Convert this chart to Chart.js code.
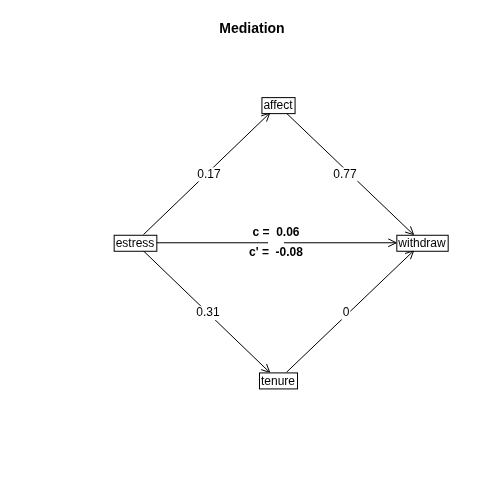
<!DOCTYPE html>
<html><head><script src="https://cdn.jsdelivr.net/npm/chart.js@4"></script>
<style>body{margin:0;background:#fff}#w{width:504px;height:504px}</style></head>
<body><div id="w"><canvas id="c"></canvas></div>
<script>
const nodeNames=["estress","affect","withdraw","tenure"];
const nodeX=[135,278,422,278];
const nodeY=[244,107,244,381];
const edgeFrom=[0,1,0,3,0];
const edgeTo=[1,2,3,2,2];
const edgeLabels=[["0.17"],["0.77"],["0.31"],["0"],["c =  0.06","c' =  -0.08"]];
const labelX=[209,345,208,346,276];
const labelY=[176,176,314,314,244];
const FONT='12px "Liberation Sans", Arial, sans-serif';
const BFONT='bold 12px "Liberation Sans", Arial, sans-serif';
function boxOf(ctx,i,xs,ys){const w=ctx.measureText(nodeNames[i]).width+4;const h=16;const cx=xs.getPixelForValue(nodeX[i]),cy=ys.getPixelForValue(nodeY[i]);return{cx,cy,w,h};}
function clip(b,dx,dy){const tx=dx?Math.abs((b.w/2)/dx):Infinity,ty=dy?Math.abs((b.h/2)/dy):Infinity;const t=Math.min(tx,ty);return[b.cx+dx*t,b.cy+dy*t];}
const plug={id:'diag',afterDatasetsDraw(ch){const ctx=ch.ctx,xs=ch.scales.x,ys=ch.scales.y;ctx.save();ctx.font=FONT;ctx.strokeStyle='#000';ctx.fillStyle='#000';ctx.lineWidth=1;
const boxes=nodeNames.map((n,i)=>boxOf(ctx,i,xs,ys));
edgeFrom.forEach((f,k)=>{const a=boxes[f],b=boxes[edgeTo[k]];const dx=b.cx-a.cx,dy=b.cy-a.cy;const p=clip(a,dx,dy),q=clip(b,-dx,-dy);
ctx.beginPath();ctx.moveTo(p[0],p[1]);ctx.lineTo(q[0],q[1]);ctx.stroke();
const ang=Math.atan2(dy,dx),L=9,s=0.45;ctx.beginPath();ctx.moveTo(q[0]-L*Math.cos(ang-s),q[1]-L*Math.sin(ang-s));ctx.lineTo(q[0],q[1]);ctx.lineTo(q[0]-L*Math.cos(ang+s),q[1]-L*Math.sin(ang+s));ctx.stroke();
const lx=xs.getPixelForValue(labelX[k]),ly=ys.getPixelForValue(labelY[k]);ctx.textAlign='center';ctx.textBaseline='middle';
const labs=edgeLabels[k];
if(labs.length===1){const w=ctx.measureText(labs[0]).width;ctx.fillStyle='#fff';ctx.fillRect(lx-w/2-1,ly-7,w+2,14);ctx.fillStyle='#000';ctx.font=FONT;ctx.fillText(labs[0],lx,ly);}
else{ctx.font=BFONT;ctx.fillStyle='#fff';ctx.fillRect(lx-8,ly-3,16,6);ctx.fillStyle='#000';ctx.fillText(labs[0],lx,ly-10);ctx.fillText(labs[1],lx,ly+10);ctx.font=FONT;}
});
boxes.forEach((b,i)=>{ctx.fillStyle='#fff';ctx.fillRect(b.cx-b.w/2,b.cy-b.h/2,b.w,b.h);ctx.strokeRect(b.cx-b.w/2+0.5,b.cy-b.h/2+0.5,b.w,b.h);ctx.fillStyle='#000';ctx.textAlign='center';ctx.textBaseline='middle';ctx.fillText(nodeNames[i],b.cx,b.cy+1);});
ctx.restore();}};
new Chart(document.getElementById('c'),{type:'scatter',data:{datasets:[{data:nodeNames.map((n,i)=>({x:nodeX[i],y:nodeY[i]})),pointRadius:0}]},
options:{responsive:true,maintainAspectRatio:false,animation:false,layout:{padding:0},
plugins:{legend:{display:false},tooltip:{enabled:false},title:{display:true,text:'Mediation',font:{family:'"Liberation Sans", Arial',size:14,weight:'bold'},color:'#000',padding:{top:21,bottom:0},align:'center'}},
scales:{x:{display:false,min:0,max:504},y:{display:false,min:40,max:504,reverse:true}}},plugins:[plug]});
</script></body></html>
